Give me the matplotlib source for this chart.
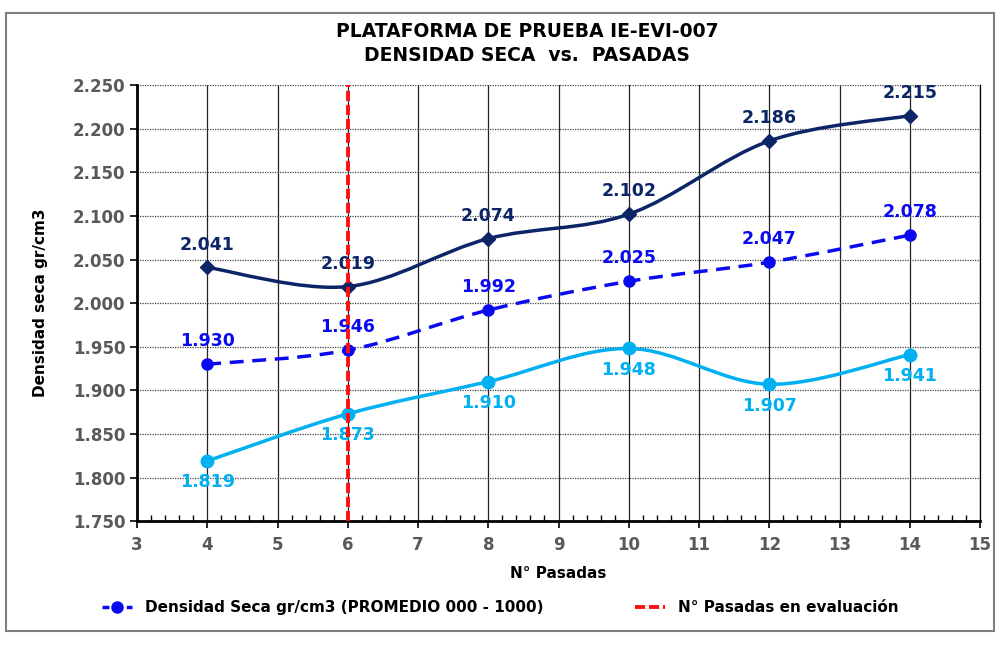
import matplotlib

matplotlib.use("Agg")
import matplotlib.pyplot as plt
from matplotlib.patches import PathPatch, Rectangle
from matplotlib.path import Path
from matplotlib.ticker import MultipleLocator, FuncFormatter

# passes and dry density (gr/cm3) per pass
pasadas = [4, 6, 8, 10, 12, 14]
dens_max = [2.041, 2.019, 2.074, 2.102, 2.186, 2.215]
dens_prom = [1.930, 1.946, 1.992, 2.025, 2.047, 2.078]
dens_min = [1.819, 1.873, 1.910, 1.948, 1.907, 1.941]
pasada_eval = 6

C_MAX = "#0B2566"
C_PROM = "#0A0AF0"
C_MIN = "#00B0F0"
GRIS = "#595959"

plt.rcParams["font.family"] = "DejaVu Sans"
plt.rcParams["font.weight"] = "bold"


def smooth_path(xs, ys):
    # Catmull-Rom style bezier through every point (Excel "smoothed line")
    pts = list(zip(xs, ys))
    verts = [pts[0]]
    codes = [Path.MOVETO]
    n = len(pts)
    for i in range(n - 1):
        p0 = pts[i - 1] if i > 0 else pts[i]
        p1 = pts[i]
        p2 = pts[i + 1]
        p3 = pts[i + 2] if i + 2 < n else pts[i + 1]
        c1 = (p1[0] + (p2[0] - p0[0]) / 6, p1[1] + (p2[1] - p0[1]) / 6)
        c2 = (p2[0] - (p3[0] - p1[0]) / 6, p2[1] - (p3[1] - p1[1]) / 6)
        verts += [c1, c2, p2]
        codes += [Path.CURVE4] * 3
    return Path(verts, codes)


fig = plt.figure(figsize=(10, 6.45), dpi=100)
ax = fig.add_axes([0.137, 0.192, 0.843, 0.676])

ax.set_xlim(3, 15)
ax.set_ylim(1.75, 2.25)
ax.xaxis.set_major_locator(MultipleLocator(1))
ax.xaxis.set_minor_locator(MultipleLocator(0.2))
ax.yaxis.set_major_locator(MultipleLocator(0.05))
ax.yaxis.set_major_formatter(FuncFormatter(lambda v, p: f"{v:.3f}"))

ax.grid(axis="x", which="major", color="#222222", lw=0.9, ls="-")
ax.grid(axis="y", which="major", color="#444444", lw=0.9, ls=(0, (1, 1)))
ax.set_axisbelow(True)

for side in ["left", "bottom"]:
    ax.spines[side].set_linewidth(2)
ax.spines["top"].set_visible(False)
ax.spines["right"].set_linewidth(0.9)

ax.tick_params(axis="both", which="major", labelsize=12, labelcolor=GRIS,
               length=5, width=1.2, direction="out")
ax.tick_params(axis="x", which="minor", length=4, width=1, direction="in")
ax.tick_params(axis="y", which="minor", left=False)
ax.tick_params(axis="x", pad=6)
for lbl in ax.get_xticklabels() + ax.get_yticklabels():
    lbl.set_fontweight("bold")

# evaluation pass line, drawn over the series
ax.axvline(pasada_eval, color="#FF1010", lw=2.8, ls=(0, (2.6, 1.0)), zorder=8,
           label="N° Pasadas en evaluación")

series = [
    (dens_max, C_MAX, "-", "D", 7, 10),
    (dens_prom, C_PROM, (0, (4, 2.5)), "o", 8, 10),
    (dens_min, C_MIN, "-", "o", 9, -9),
]
for vals, col, ls, mk, ms, off in series:
    ax.add_patch(PathPatch(smooth_path(pasadas, vals), fill=False, ec=col,
                           lw=2.5, ls=ls, zorder=5))
    ax.plot(pasadas, vals, ls="none", marker=mk, ms=ms, color=col, zorder=6)
    for x, v in zip(pasadas, vals):
        ax.annotate(f"{v:.3f}", (x, v), xytext=(0, off), textcoords="offset points",
                    ha="center", va="bottom" if off > 0 else "top",
                    color=col, fontsize=12.5, fontweight="bold", zorder=7)

# legend proxy for the average series
ax.plot([], [], color=C_PROM, lw=2.5, ls=(0, (2, 1.5)), marker="o", ms=8,
        label="Densidad Seca gr/cm3 (PROMEDIO 000 - 1000)")
h, l = ax.get_legend_handles_labels()
fig.legend([h[1], h[0]], [l[1], l[0]], loc="center", bbox_to_anchor=(0.5, 0.058),
           ncol=2, frameon=False, handlelength=2, columnspacing=6,
           prop={"weight": "bold", "size": 11})

ax.set_xlabel("N° Pasadas", fontsize=11, fontweight="bold", labelpad=8)
ax.set_ylabel("Densidad seca gr/cm3", fontsize=11, fontweight="bold", labelpad=18)
fig.text(0.527, 0.932, "PLATAFORMA DE PRUEBA IE-EVI-007\nDENSIDAD SECA  vs.  PASADAS",
         ha="center", va="center", fontsize=13.5, fontweight="bold", linespacing=1.35)

fig.patches.append(Rectangle((0.006, 0.022), 0.988, 0.958, transform=fig.transFigure,
                             fill=False, ec="#7f7f7f", lw=1.5))

fig.savefig("out.png", dpi=100)
